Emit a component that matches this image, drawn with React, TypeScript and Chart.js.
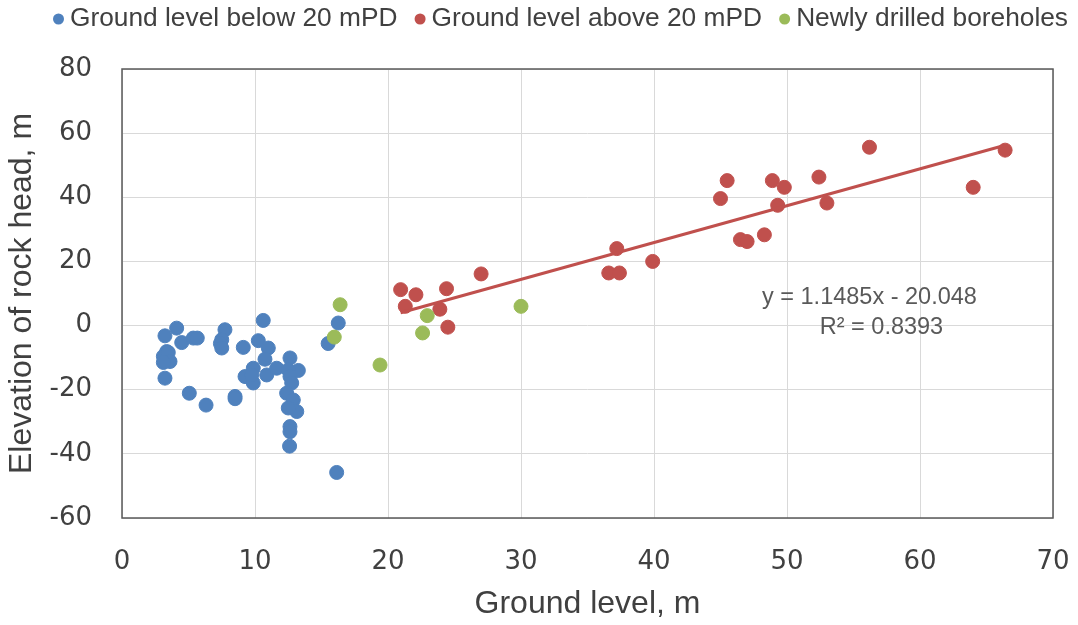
import React, { useEffect, useRef } from 'react';
import { Chart, registerables } from 'chart.js';

Chart.register(...registerables);

// ---- Data ----
const seriesLabels = ['Ground level below 20 mPD', 'Ground level above 20 mPD', 'Newly drilled boreholes'];
const seriesColors = ['#4F81BD', '#C0504D', '#9BBB59'];

const belowPoints: [number, number][] = [
  [4.11, -0.8], [3.23, -3.2], [4.49, -5.3], [5.36, -3.9], [5.66, -3.9],
  [3.36, -8.1], [3.11, -9.6], [3.48, -8.4], [3.61, -11.2], [3.11, -11.5],
  [3.23, -16.4], [7.74, -1.3], [7.5, -4.4], [7.4, -5.6], [7.5, -7.0],
  [9.12, -6.8], [10.62, 1.6], [10.25, -4.7], [11.0, -7.0], [10.75, -10.5],
  [9.87, -13.3], [9.25, -15.9], [9.87, -17.9], [9.75, -15.4], [10.88, -15.4],
  [11.63, -13.3], [12.63, -10.1], [13.26, -14.0], [12.5, -13.8], [12.63, -15.9],
  [12.76, -17.9], [12.38, -21.1], [12.88, -23.2], [13.14, -26.8], [12.5, -25.7],
  [12.63, -31.5], [12.63, -33.1], [12.6, -37.6], [5.06, -21.1], [6.32, -24.8],
  [8.5, -22.1], [8.5, -22.8], [15.5, -5.6], [16.26, 0.8], [16.14, -45.8],
];

const abovePoints: [number, number][] = [
  [20.95, 11.2], [22.1, 9.6], [21.3, 6.0], [24.4, 11.5], [23.9, 5.1],
  [24.5, -0.5], [27.0, 16.1], [36.6, 16.4], [37.4, 16.4], [37.2, 24.0],
  [39.9, 20.0], [45.0, 39.6], [45.5, 45.2], [46.5, 26.8], [47.0, 26.2],
  [48.3, 28.3], [48.9, 45.2], [49.3, 37.5], [49.8, 43.1], [52.4, 46.3],
  [53.0, 38.2], [56.2, 55.6], [64.0, 43.1], [66.4, 54.7],
];

const newPoints: [number, number][] = [
  [15.96, -3.6], [16.4, 6.5], [19.4, -12.3], [22.6, -2.3], [22.95, 3.1], [30.0, 6.0],
];

// Linear trendline of the "above 20 mPD" series (as printed on the chart)
const trendSlope = 1.1485;
const trendIntercept = -20.048;
const trendR2 = 0.8393;
const equationLines = [
  `y = ${trendSlope}x - ${Math.abs(trendIntercept).toFixed(3)}`,
  `R² = ${trendR2}`,
];

const xTicks = { min: 0, max: 70, step: 10 };
const yTicks = { min: -60, max: 80, step: 20 };

const xTitle = 'Ground level, m';
const yTitle = 'Elevation of rock head, m';

const TEXT = '#404040';

const toXY = (pts: [number, number][]) => pts.map(([x, y]) => ({ x, y }));

export default function App() {
  const ref = useRef<HTMLCanvasElement | null>(null);

  useEffect(() => {
    if (!ref.current) return;

    const xs = abovePoints.map((p) => p[0]);
    const minX = Math.min(...xs);
    const maxX = Math.max(...xs);
    const trend = [
      { x: minX, y: trendSlope * minX + trendIntercept },
      { x: maxX, y: trendSlope * maxX + trendIntercept },
    ];

    const overlay = {
      id: 'overlay',
      beforeDatasetsDraw(chart: any) {
        const { ctx, chartArea: a } = chart;
        ctx.save();
        ctx.strokeStyle = '#595959';
        ctx.lineWidth = 1.5;
        ctx.strokeRect(a.left, a.top, a.right - a.left, a.bottom - a.top);
        ctx.restore();
      },
      afterDraw(chart: any) {
        const { ctx } = chart;
        ctx.save();
        // Legend
        ctx.font = '26.3px "Liberation Sans", Arial, sans-serif';
        ctx.textBaseline = 'middle';
        ctx.textAlign = 'left';
        const items = chart.data.datasets.filter((d: any) => !d.showLine);
        const dot = 11;
        const gapDotText = 6;
        const widths = items.map((d: any) => dot + gapDotText + ctx.measureText(d.label).width);
        const left = 53;
        const right = 1068;
        const total = widths.reduce((s: number, w: number) => s + w, 0);
        const gap = items.length > 1 ? (right - left - total) / (items.length - 1) : 0;
        let x = left;
        const cy = 19;
        items.forEach((d: any, i: number) => {
          ctx.fillStyle = d.backgroundColor;
          ctx.beginPath();
          ctx.arc(x + dot / 2, cy, dot / 2, 0, Math.PI * 2);
          ctx.fill();
          ctx.fillStyle = TEXT;
          ctx.fillText(d.label, x + dot + gapDotText, cy);
          x += widths[i] + gap;
        });

        // Trendline equation
        const sx = chart.scales.x;
        const sy = chart.scales.y;
        const ex = sx.getPixelForValue(56.2);
        const ey = sy.getPixelForValue(8.7);
        ctx.font = '23.5px "Liberation Sans", Arial, sans-serif';
        ctx.fillStyle = '#595959';
        ctx.textAlign = 'center';
        equationLines.forEach((t, i) => ctx.fillText(t, ex + (i === 1 ? 12 : 0), ey + i * 30));
        ctx.restore();
      },
    };

    const pointStyle = (c: string) => ({
      backgroundColor: c,
      borderColor: c,
      borderWidth: 1,
      pointRadius: 7,
      pointHoverRadius: 7,
    });

    const chart = new Chart(ref.current, {
      type: 'scatter',
      data: {
        datasets: [
          { label: seriesLabels[0], data: toXY(belowPoints), order: 4, ...pointStyle(seriesColors[0]) },
          { label: seriesLabels[1], data: toXY(abovePoints), order: 3, ...pointStyle(seriesColors[1]) },
          { label: seriesLabels[2], data: toXY(newPoints), order: 1, ...pointStyle(seriesColors[2]) },
          {
            label: '',
            data: trend,
            order: 2,
            showLine: true,
            borderColor: seriesColors[1],
            backgroundColor: seriesColors[1],
            borderWidth: 3,
            pointRadius: 0,
            pointHoverRadius: 0,
            fill: false,
          } as any,
        ],
      },
      options: {
        animation: false,
        responsive: false,
        events: [],
        layout: { padding: { top: 69, right: 25, bottom: 0, left: 0 } },
        plugins: { legend: { display: false }, tooltip: { enabled: false } },
        scales: {
          x: {
            type: 'linear',
            min: xTicks.min,
            max: xTicks.max,
            ticks: {
              stepSize: xTicks.step,
              padding: 29,
              color: TEXT,
              font: { family: '"DejaVu Sans", sans-serif', size: 26 },
            },
            grid: { color: '#D9D9D9', lineWidth: 1, drawTicks: false },
            border: { display: false },
            title: {
              display: true,
              text: xTitle,
              color: TEXT,
              font: { family: '"Liberation Sans", Arial, sans-serif', size: 32 },
              padding: { top: 0, bottom: 2 },
            },
            afterFit: (s: any) => {
              s.height = 107;
              s.paddingLeft = 0;
              s.paddingRight = 0;
            },
          },
          y: {
            type: 'linear',
            min: yTicks.min,
            max: yTicks.max,
            ticks: {
              stepSize: yTicks.step,
              padding: 30,
              color: TEXT,
              font: { family: '"DejaVu Sans", sans-serif', size: 26 },
            },
            grid: { color: '#D9D9D9', lineWidth: 1, drawTicks: false },
            border: { display: false },
            title: {
              display: true,
              text: yTitle,
              color: TEXT,
              font: { family: '"Liberation Sans", Arial, sans-serif', size: 32 },
              padding: { top: 3, bottom: 0 },
            },
            afterFit: (s: any) => {
              s.width = 122;
              s.paddingTop = 0;
              s.paddingBottom = 0;
            },
          },
        },
      },
      plugins: [overlay],
    });

    return () => chart.destroy();
  }, []);

  return (
    <div style={{ position: 'absolute', left: 0, top: 0, width: 1078, height: 625, background: '#fff' }}>
      <canvas ref={ref} width={1078} height={625} style={{ width: 1078, height: 625, display: 'block' }} />
    </div>
  );
}
